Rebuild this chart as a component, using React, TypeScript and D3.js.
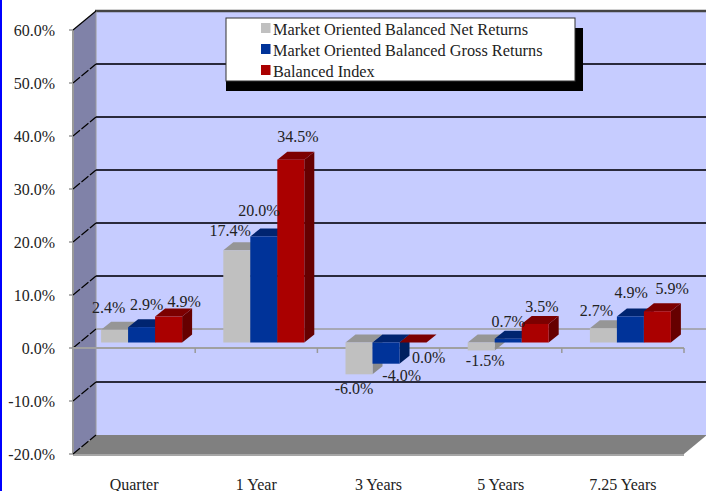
import React from "react";
import * as d3 from "d3";

const categories = ["Quarter", "1 Year", "3 Years", "5 Years", "7.25 Years"];
const seriesNames = ["Market Oriented Balanced Net Returns", "Market Oriented Balanced Gross Returns", "Balanced Index"];
const netReturns = [2.4, 17.4, -6.0, -1.5, 2.7];
const grossReturns = [2.9, 20.0, -4.0, 0.7, 4.9];
const balancedIndex = [4.9, 34.5, 0.0, 3.5, 5.9];
const yTicks = [60, 50, 40, 30, 20, 10, 0, -10, -20];

const palettes = [
  { front: "#c0c0c0", top: "#969696", side: "#8c8c8c" },
  { front: "#003399", top: "#002470", side: "#002060" },
  { front: "#aa0000", top: "#7c0000", side: "#660000" },
];
const series = [netReturns, grossReturns, balancedIndex];
const FONT = "'Liberation Serif', serif";

export default function App() {
  const y = d3.scaleLinear().domain([-20, 60]).range([454, 30]);
  const x0 = d3.scaleBand().domain(categories).range([73, 684]);
  const wallDx = 23, wallDy = -19;
  const zDx = 7.5, zDy = -5.5;
  const depthDx = 10, depthDy = -8;
  const barW = 27;
  const xL = 73, xR = 684;

  const labelOffsets: [number, number][][] = [
    [[-6, -9], [5, -9], [15.5, -2]],
    [[-6.7, -6.3], [-5, -12.5], [7, -10]],
    [[-5, 19.7], [15.7, 17.3], [15.7, 28.8]],
    [[4, 15.5], [0, -4], [6.7, -4.3]],
    [[-7, -4.5], [0.7, -11], [14.7, -9]],
  ];

  return (
    <svg width={706} height={491} style={{ position: "fixed", left: 0, top: 0, background: "#fff" }} fontFamily={FONT}>
      <rect x={0} y={0} width={2} height={491} fill="#0000ff" />
      {/* back wall */}
      <rect x={xL + wallDx} y={y(60) + wallDy} width={620} height={y(-20) - y(60)} fill="#c6ccff" />
      <line x1={xL + wallDx - 1} x2={707} y1={y(60) + wallDy} y2={y(60) + wallDy} stroke="#444" strokeWidth={2.5} />
      {/* left wall */}
      <polygon
        points={`${xL},${y(60)} ${xL + wallDx},${y(60) + wallDy} ${xL + wallDx},${y(-20) + wallDy} ${xL},${y(-20)}`}
        fill="#8082a8"
      />
      <line x1={xL} x2={xL} y1={y(60)} y2={y(-20)} stroke="#999" strokeWidth={2} />
      <line x1={xL + wallDx} x2={xL + wallDx} y1={y(60) + wallDy} y2={y(-20) + wallDy} stroke="#9a9a9a" strokeWidth={1} />
      {/* floor */}
      <polygon
        points={`${xL},${y(-20)} ${xR},${y(-20)} ${xR + wallDx},${y(-20) + wallDy} ${xL + wallDx},${y(-20) + wallDy}`}
        fill="#808080"
      />
      <line x1={xL} x2={xR} y1={y(-20) + 1} y2={y(-20) + 1} stroke="#a6a6a6" strokeWidth={2} />
      {/* grid lines */}
      {yTicks.filter((v) => v !== -20 && v !== 60).map((v) => (
        <line
          key={v}
          x1={xL + wallDx}
          x2={707}
          y1={y(v) + wallDy}
          y2={y(v) + wallDy}
          stroke={v === 0 ? "#9c9c9c" : "#2a2a3c"}
          strokeWidth={v === 0 ? 1.5 : 2.2}
        />
      ))}
      {yTicks.map((v) => (
        <line key={v} x1={xL} y1={y(v)} x2={xL + wallDx} y2={y(v) + wallDy} stroke="#000" strokeWidth={1.2} strokeDasharray={v === 60 ? undefined : "9 2"} />
      ))}
      {/* y axis ticks and labels */}
      {yTicks.map((v) => (
        <g key={v}>
          <line x1={xL - 4} x2={xL} y1={y(v)} y2={y(v)} stroke="#999" strokeWidth={1.5} />
          <text x={55} y={y(v) + 6} fontSize={16} fill="#222" textAnchor="end">
            {v.toFixed(1)}%
          </text>
        </g>
      ))}
      {/* x axis at zero */}
      <line x1={xL} x2={xR} y1={y(0)} y2={y(0)} stroke="#a0a0a0" strokeWidth={2} />
      {categories.map((c) => (
        <line key={c} x1={x0(c)! + x0.bandwidth()} x2={x0(c)! + x0.bandwidth()} y1={y(0)} y2={y(0) + 5} stroke="#999" strokeWidth={1.5} />
      ))}
      {/* bars */}
      {categories.map((c, ci) =>
        [0, 1, 2].map((si) => {
          const v = series[si][ci];
          const p = palettes[si];
          const left = x0(c)! + (x0.bandwidth() - barW * 3) / 2 + zDx + si * barW;
          const right = left + barW;
          const yV = y(v) + zDy;
          const yZ = y(0) + zDy;
          const top = Math.min(yV, yZ);
          const bottom = Math.max(yV, yZ);
          return (
            <g key={c + si}>
              <polygon points={`${right},${top} ${right + depthDx},${top + depthDy} ${right + depthDx},${bottom + depthDy} ${right},${bottom}`} fill={p.side} />
              <polygon points={`${left},${top} ${left + depthDx},${top + depthDy} ${right + depthDx},${top + depthDy} ${right},${top}`} fill={p.top} />
              <rect x={left} y={top} width={barW} height={bottom - top} fill={p.front} />
            </g>
          );
        })
      )}
      {/* data labels */}
      {categories.map((c, ci) =>
        [0, 1, 2].map((si) => {
          const v = series[si][ci];
          const left = x0(c)! + (x0.bandwidth() - barW * 3) / 2 + zDx + si * barW;
          const [ox, oy] = labelOffsets[ci][si];
          const yBase = v < 0 ? y(v) + zDy : y(v) + zDy + depthDy;
          return (
            <text key={c + si} x={left + barW / 2 + ox} y={yBase + oy} fontSize={16} fill="#222" textAnchor="middle">
              {v.toFixed(1)}%
            </text>
          );
        })
      )}
      {/* category labels */}
      {categories.map((c) => (
        <text key={c} x={x0(c)! + x0.bandwidth() / 2} y={489.5} fontSize={16} fill="#222" textAnchor="middle">
          {c}
        </text>
      ))}
      {/* legend */}
      <rect x={226} y={28} width={357} height={63} fill="#000" />
      <rect x={226} y={18} width={349} height={63} fill="#fff" stroke="#333" strokeWidth={1} />
      {seriesNames.map((n, i) => (
        <g key={n}>
          <rect x={261} y={23 + i * 21} width={9.5} height={10} fill={palettes[i].front} />
          <text x={273} y={34.5 + i * 21} fontSize={16.3} fill="#222">
            {n}
          </text>
        </g>
      ))}
    </svg>
  );
}
